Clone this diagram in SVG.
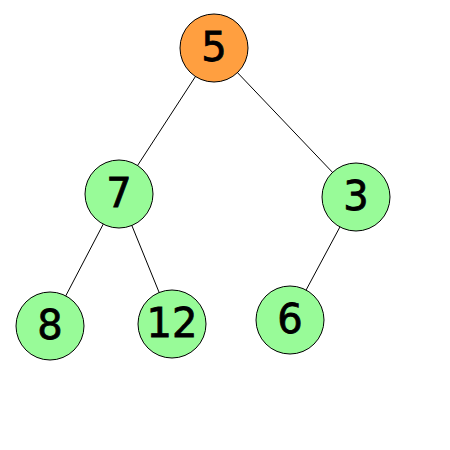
<svg xmlns="http://www.w3.org/2000/svg" width="450" height="450" viewBox="0 0 450 450">
<style>
.n{stroke:#000;stroke-width:1}
.g{fill:#98fb98}
.o{fill:#ff9f40}
text{font-family:"Comic Sans MS","DejaVu Sans","Liberation Sans",sans-serif;font-size:40px;text-anchor:middle;dominant-baseline:central;fill:#000;stroke:#000;stroke-width:0.8}
#edges line{stroke:#000;stroke-width:1}
</style>
<rect width="450" height="450" fill="#fff"/>
<g id="edges">
<line x1="214" y1="48" x2="119" y2="194"/>
<line x1="214" y1="48" x2="356" y2="197"/>
<line x1="119" y1="194" x2="50" y2="326"/>
<line x1="119" y1="194" x2="172" y2="324"/>
<line x1="356" y1="197" x2="290" y2="320"/>
</g>
<g id="n5"><circle class="n o" cx="214" cy="48" r="34"/><text x="214" y="47">5</text></g>
<g id="n7"><circle class="n g" cx="119" cy="194" r="34"/><text x="119" y="193">7</text></g>
<g id="n3"><circle class="n g" cx="356" cy="197" r="34"/><text x="356" y="196">3</text></g>
<g id="n8"><circle class="n g" cx="50" cy="326" r="34"/><text x="50" y="325">8</text></g>
<g id="n12"><circle class="n g" cx="172" cy="324" r="34"/><text x="172" y="323">12</text></g>
<g id="n6"><circle class="n g" cx="290" cy="320" r="34"/><text x="290" y="319">6</text></g>
</svg>
